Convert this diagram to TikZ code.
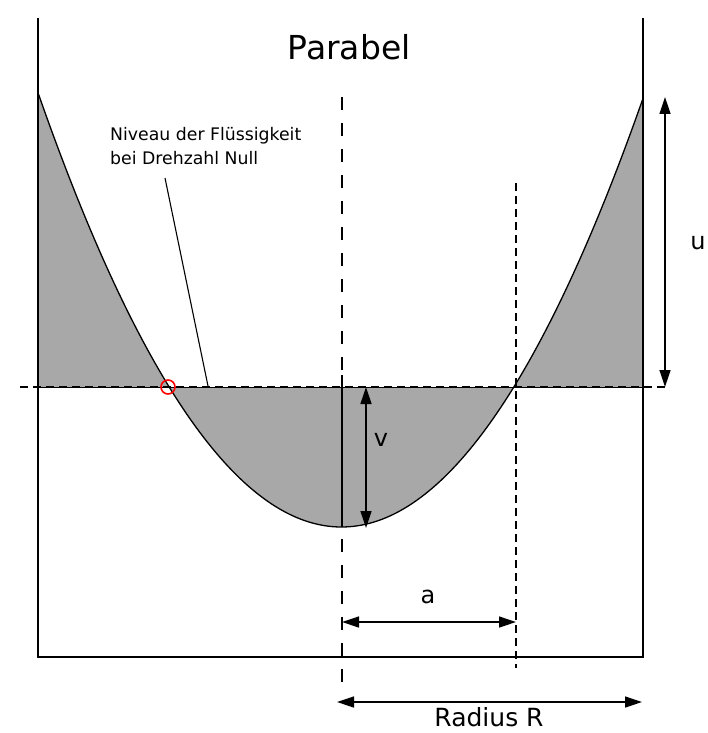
\documentclass[tikz,border=0pt]{standalone}
\usepackage{fontspec}
\setmainfont{DejaVu Sans}
\usetikzlibrary{arrows.meta}
\definecolor{liquid}{RGB}{168,168,168}
\begin{document}
\begin{tikzpicture}[x=1pt,y=-1pt,
  wall/.style={line width=1.3pt},
  curve/.style={line width=1.3pt},
  dim/.style={line width=1.3pt,{Triangle[length=17pt,width=11pt]}-{Triangle[length=17pt,width=11pt]}},
  centerdash/.style={line width=1.2pt,dash pattern=on 13pt off 13pt},
  finedash/.style={line width=1.1pt,dash pattern=on 8pt off 5pt},
  leveldash/.style={line width=1.1pt,dash pattern=on 8pt off 5pt},
  lbl/.style={inner sep=0,font=\fontsize{24}{28}\selectfont},
  note/.style={inner sep=0,anchor=base west,font=\fontsize{17.3}{20}\selectfont}]
\useasboundingbox (0,0) rectangle (708,733);
% coordinates
\coordinate (wlt) at (38,18);
\coordinate (wlb) at (38,657);
\coordinate (wrt) at (643,18);
\coordinate (wrb) at (643,657);
\coordinate (lvl0) at (20,387);
\coordinate (lvl1) at (665,387);
\coordinate (lvlL) at (38,387);
\coordinate (lvlR) at (643,387);
\coordinate (ctop) at (342,97);
\coordinate (cbot) at (342,685);
\coordinate (csolidtop) at (342,375);
\coordinate (vertex) at (342,527);
\coordinate (rtop) at (516,183);
\coordinate (rbot) at (516,668);
\coordinate (utop) at (665,97);
\coordinate (ubot) at (665,387);
\coordinate (vtop) at (366,387);
\coordinate (vbot) at (366,528);
\coordinate (aL) at (342,622);
\coordinate (aR) at (516,622);
\coordinate (RL) at (337,702);
\coordinate (RR) at (642,702);
\coordinate (ldtop) at (165,178);
\coordinate (ldend) at (208,386);
% liquid
\fill[liquid] plot[domain=38:643,samples=151] (\x,{527-(0.06867*(\x-341.5))^2}) -- (lvlR) -- (lvlL) -- cycle;
\draw[curve] plot[domain=38:643,samples=151] (\x,{527-(0.06867*(\x-341.5))^2});
% container
\draw[wall] (wlt) -- (wlb) -- (wrb) -- (wrt);
% level line
\draw[leveldash] (lvl0) -- (lvl1);
\draw[line width=0.9pt] (lvlL) -- (lvlR);
% center lines
\draw[centerdash] (ctop) -- (cbot);
\draw[wall] (csolidtop) -- (vertex);
\draw[finedash] (rtop) -- (rbot);
% dimensions
\draw[dim] (utop) -- (ubot);
\draw[dim] (vtop) -- (vbot);
\draw[dim] (aL) -- (aR);
\draw[dim] (RL) -- (RR);
% leader
\draw[line width=1.1pt] (ldtop) -- (ldend);
\node[circle,draw=red,line width=1.6pt,minimum size=14pt,inner sep=0] (zeromark) at (168,387) {};
% labels
\node[inner sep=0,font=\fontsize{33}{38}\selectfont] (title) at (349,47) {Parabel};
\node[note] (niv1) at (110,140) {Niveau der Flüssigkeit};
\node[note] (niv2) at (110,164) {bei Drehzahl Null};
\node[lbl] (ulbl) at (698,243) {u};
\node[lbl] (vlbl) at (381,440) {v};
\node[lbl] (albl) at (428,597) {a};
\node[inner sep=0,font=\fontsize{25}{30}\selectfont] (Rlbl) at (489,717) {Radius R};
\end{tikzpicture}
\end{document}
